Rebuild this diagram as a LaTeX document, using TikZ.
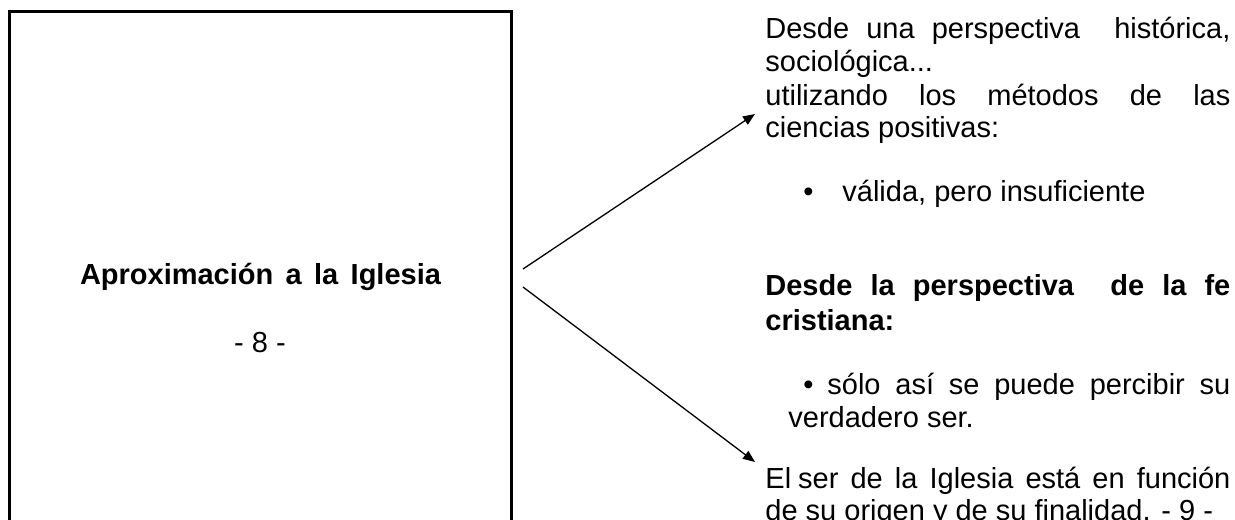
\documentclass[tikz,border=0pt]{standalone}
\usepackage{fontspec}
\setmainfont{Liberation Sans}
\usepackage{tikz}
\usetikzlibrary{arrows.meta}

\newcommand{\linea}[2][232.5pt]{\makebox[#1][s]{#2}} % renglon justificado

\tikzset{
  caja/.style={draw, line width=1.5pt, inner sep=0pt},
  texto/.style={anchor=base west, inner sep=0pt, font=\fontsize{14.5pt}{16.25pt}\selectfont},
  negrita/.style={texto, font=\fontsize{14.5pt}{16.25pt}\selectfont\bfseries},
  titulo/.style={anchor=base, inner sep=0pt, font=\fontsize{14.5pt}{16.25pt}\selectfont\bfseries},
  flecha/.style={-{Triangle[length=6pt, width=4.8pt]}, line width=0.65pt}
}

\begin{document}
\begin{tikzpicture}[x=0.5pt, y=-0.5pt]
\useasboundingbox (0,0) rectangle (1235,519);
\clip (0,0) rectangle (1235,519);

\node[caja, minimum width=251pt, minimum height=264pt] (caja) at (260,276) {}; % caja izquierda
\node[titulo] (titulo) at (260.5,284) {\linea[180.5pt]{Aproximación a la Iglesia}};
\node[titulo, font=\fontsize{14.5pt}{16.25pt}\selectfont] (numero) at (260,352) {- 8 -};

\coordinate (salida1) at (523,269);
\coordinate (salida2) at (523,287);
\coordinate (punta1) at (755,114);
\coordinate (punta2) at (755,462);
\draw[flecha] (salida1) -- (punta1); % arriba
\draw[flecha] (salida2) -- (punta2); % abajo

\node[texto] (linea1) at (765,39) {\linea{Desde una perspectiva\ \ histórica,}};
\node[texto] (linea2) at (765,72) {sociológica...};
\node[texto] (linea3) at (765,105) {\linea{utilizando los métodos de las}};
\node[texto] (linea4) at (765,137) {ciencias positivas:};
\node[texto] (vineta1) at (803,201) {•};
\node[texto] (linea5) at (842,201) {válida, pero insuficiente};

\node[negrita] (linea6) at (765,295) {\linea{Desde la perspectiva\ \ de la fe}};
\node[negrita] (linea7) at (765,330) {cristiana:};
\node[texto] (vineta2) at (803,394) {•};
\node[texto] (linea8) at (827,394) {\linea[201.5pt]{sólo así se puede percibir su}};
\node[texto] (linea9) at (788,427) {verdadero ser.};

\node[texto] (linea10) at (765,488) {\linea{El\hspace{3.5pt}ser de la Iglesia está en función}};
\node[texto] (linea11) at (765,520) {de su origen y de su finalidad. - 9 -};
\end{tikzpicture}
\end{document}
